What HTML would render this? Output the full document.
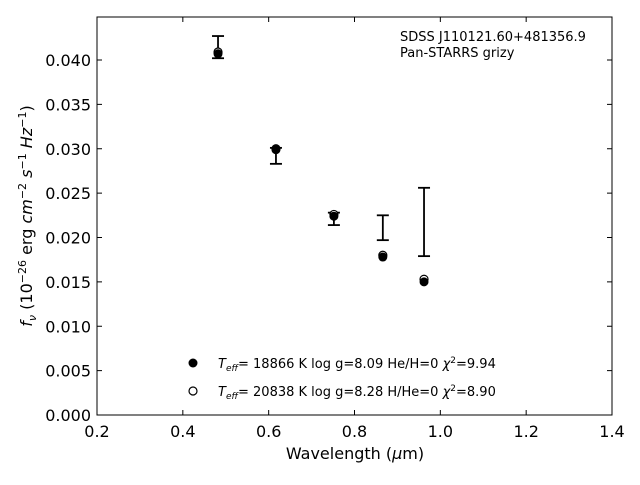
<!DOCTYPE html>
<html><head><meta charset="utf-8"><style>
html,body{margin:0;padding:0;background:#fff;}
svg text{font-family:"DejaVu Sans","Liberation Sans",sans-serif;fill:#000;}
</style></head><body>
<svg id="chart" width="640" height="480" viewBox="0 0 640 480" xmlns="http://www.w3.org/2000/svg">
<rect x="0" y="0" width="640" height="480" fill="#fff"/>
<g id="marks"></g>
<g id="axes"></g>
<text x="400" y="41" font-size="13">SDSS J110121.60+481356.9</text>
<text x="400" y="57" font-size="13">Pan-STARRS grizy</text>
<circle cx="193" cy="363" r="4.5" fill="#000"/>
<text x="218" y="368" font-size="13"><tspan font-style="italic">T</tspan><tspan font-style="italic" font-size="9" dy="3">eff</tspan><tspan dy="-3">= 18866 K  log g=8.09  He/H=0  </tspan><tspan font-style="italic">χ</tspan><tspan font-size="9" dy="-5">2</tspan><tspan dy="5">=9.94</tspan></text>
<circle cx="193" cy="391" r="4" fill="#fff" stroke="#000" stroke-width="1.2"/>
<text x="218" y="396" font-size="13"><tspan font-style="italic">T</tspan><tspan font-style="italic" font-size="9" dy="3">eff</tspan><tspan dy="-3">= 20838 K  log g=8.28  H/He=0  </tspan><tspan font-style="italic">χ</tspan><tspan font-size="9" dy="-5">2</tspan><tspan dy="5">=8.90</tspan></text>
<text x="355" y="459" font-size="16" text-anchor="middle">Wavelength (<tspan font-style="italic">μ</tspan>m)</text>
<text transform="translate(32,216) rotate(-90)" font-size="16" text-anchor="middle"><tspan font-style="italic">f</tspan><tspan font-style="italic" font-size="11" dy="4">ν</tspan><tspan dy="-4"> (10</tspan><tspan font-size="11" dy="-6">−26</tspan><tspan dy="6"> erg </tspan><tspan font-style="italic">cm</tspan><tspan font-size="11" dy="-6">−2</tspan><tspan dy="6"> </tspan><tspan font-style="italic">s</tspan><tspan font-size="11" dy="-6">−1</tspan><tspan dy="6"> </tspan><tspan font-style="italic">Hz</tspan><tspan font-size="11" dy="-6">−1</tspan><tspan dy="6">)</tspan></text>
</svg>
<script>
const wavelengths=[0.482,0.617,0.752,0.866,0.962];
const obsLow=[0.0402,0.0283,0.0214,0.0197,0.0179];
const obsHigh=[0.0427,0.0301,0.0228,0.0225,0.0256];
const modelFilled=[0.0407,0.0299,0.0224,0.0178,0.0150];
const modelOpen=[0.0409,0.0300,0.0226,0.0180,0.0153];
const xTicks=[0.2,0.4,0.6,0.8,1.0,1.2,1.4];
const yTicks=[0,0.005,0.010,0.015,0.020,0.025,0.030,0.035,0.040];

const L=97,R=612,T=17,B=415;
const xS=v=>L+(v-0.2)/(1.2)*(R-L);
const yS=v=>B-v/0.04*(B-60);
const NS='http://www.w3.org/2000/svg';
function mk(tag,attrs,parent){const e=document.createElementNS(NS,tag);for(const k in attrs)e.setAttribute(k,attrs[k]);parent.appendChild(e);return e;}
const marks=document.getElementById('marks'),axes=document.getElementById('axes');

wavelengths.forEach((w,i)=>{
  const x=xS(w);
  const g=mk('g',{},marks);
  
  
  mk('line',{x1:x,x2:x,y1:yS(obsLow[i]),y2:yS(obsHigh[i]),stroke:'#000','stroke-width':1.8},g);
  mk('line',{x1:x-6,x2:x+6,y1:yS(obsLow[i]),y2:yS(obsLow[i]),stroke:'#000','stroke-width':1.8},g);
  mk('line',{x1:x-6,x2:x+6,y1:yS(obsHigh[i]),y2:yS(obsHigh[i]),stroke:'#000','stroke-width':1.8},g);
  const o=mk('circle',{cx:x,cy:yS(modelOpen[i]),r:4,fill:'#fff',stroke:'#000','stroke-width':1.2},marks);
  
  
  const f=mk('circle',{cx:x,cy:yS(modelFilled[i]),r:4.5,fill:'#000'},marks);
  
  
});

const frame=mk('rect',{x:L,y:T,width:R-L,height:B-T,fill:'none',stroke:'#000','stroke-width':1},axes);


xTicks.forEach(t=>{
  const x=xS(t);
  mk('line',{x1:x,x2:x,y1:B,y2:B-5,stroke:'#000'},axes);
  mk('line',{x1:x,x2:x,y1:T,y2:T+5,stroke:'#000'},axes);
  const tx=mk('text',{x:x,y:B+22,'font-size':16,'text-anchor':'middle'},axes);
  tx.textContent=t.toFixed(1);
  
  
});
yTicks.forEach(t=>{
  const y=yS(t);
  mk('line',{x1:L,x2:L+5,y1:y,y2:y,stroke:'#000'},axes);
  mk('line',{x1:R,x2:R-5,y1:y,y2:y,stroke:'#000'},axes);
  const tx=mk('text',{x:L-6,y:y+6,'font-size':16,'text-anchor':'end'},axes);
  tx.textContent=t.toFixed(3);
  
  
});
</script>
</body></html>
